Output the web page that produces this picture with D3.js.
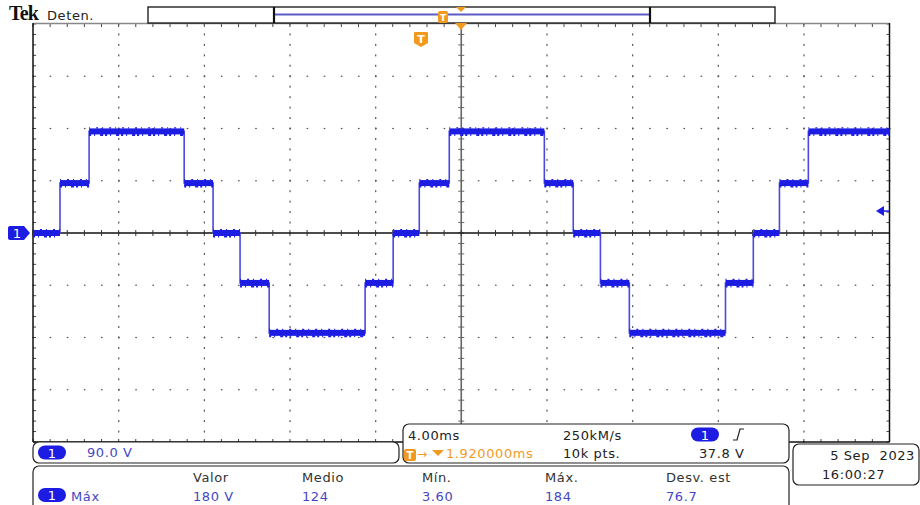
<!DOCTYPE html>
<html>
<head>
<meta charset="utf-8">
<script src="https://cdn.jsdelivr.net/npm/d3@7"></script>
<style>
  body { margin: 0; background: #fff; }
  svg { display: block; font-family: "DejaVu Sans", sans-serif; }
</style>
</head>
<body>
<svg width="920" height="505"></svg>
<script>
(function() {
  'use strict';

// step edges of the trace (ms, 0 = screen centre) and the level held after each edge (V)
var stepEdges  = [-20, -18.74, -17.38, -12.94, -11.59, -10.33, -8.97, -4.49, -3.18, -1.96,
                  -0.56, 3.88, 5.23, 6.50, 7.85, 12.34, 13.64, 14.86, 16.21, 20];
var stepLevels = [0, 86, 175, 86, 0, -86, -172, -86, 0, 86,
                  175, 86, 0, -86, -172, -86, 0, 86, 175];

var voltsPerDiv = 90, msPerDiv = 4, triggerLevel = 37.8;

var measHeaders = ["Valor", "Medio", "Mín.", "Máx.", "Desv. est"];
var measValues  = ["180 V", "124", "3.60", "184", "76.7"];

var blue = "#1c1ce2", orange = "#f29a1f", valBlue = "#4646c4";

var svg = d3.select("svg");

var x = d3.scaleLinear().domain([-5 * msPerDiv, 5 * msPerDiv]).range([33, 889.5]);
var y = d3.scaleLinear().domain([-4 * voltsPerDiv, 4 * voltsPerDiv]).range([442, 24]);

var majorX = d3.range(-5, 5.001, 1).map(function(d) { return d * msPerDiv; });
var minorX = d3.range(-25, 25.001, 1).map(function(d) { return d * msPerDiv / 5; });
var majorY = d3.range(-4, 4.001, 1).map(function(d) { return d * voltsPerDiv; });
var minorY = d3.range(-20, 20.001, 1).map(function(d) { return d * voltsPerDiv / 5; });

// graticule dots
var grid = svg.append("g").attr("fill", "#555");
majorX.slice(1, -1).forEach(function(t) {
  if (t === 0) return;
  grid.selectAll(null).data(minorY).enter().append("rect")
    .attr("x", x(t) - 0.5).attr("y", function(v) { return y(v) - 1; })
    .attr("width", 1.2).attr("height", 2);
});
majorY.slice(1, -1).forEach(function(v) {
  if (v === 0) return;
  grid.selectAll(null).data(minorX).enter().append("rect")
    .attr("x", function(t) { return x(t) - 0.5; }).attr("y", y(v) - 0.6)
    .attr("width", 1.6).attr("height", 1.2);
});

// centre axes
svg.append("line").attr("x1", x(0)).attr("x2", x(0)).attr("y1", 24).attr("y2", 442)
   .attr("stroke", "#666").attr("stroke-width", 1.6);
svg.append("g").selectAll("line").data(minorY).enter().append("line")
   .attr("x1", x(0) - 3).attr("x2", x(0) + 3)
   .attr("y1", function(v) { return y(v); }).attr("y2", function(v) { return y(v); })
   .attr("stroke", "#666").attr("stroke-width", 1);
svg.append("line").attr("x1", 33).attr("x2", 889.5).attr("y1", y(0)).attr("y2", y(0))
   .attr("stroke", "#111").attr("stroke-width", 1.5);
svg.append("g").selectAll("line").data(minorX).enter().append("line")
   .attr("x1", function(t) { return x(t); }).attr("x2", function(t) { return x(t); })
   .attr("y1", y(0) - 3).attr("y2", y(0) + 3)
   .attr("stroke", "#333").attr("stroke-width", 1);

// edge ticks
var edges = svg.append("g").attr("stroke", "#444").attr("stroke-width", 1);
edges.selectAll(".tt").data(minorX).enter().append("line")
   .attr("x1", function(t) { return x(t); }).attr("x2", function(t) { return x(t); })
   .attr("y1", 24).attr("y2", 27);
edges.selectAll(".tb").data(minorX).enter().append("line")
   .attr("x1", function(t) { return x(t); }).attr("x2", function(t) { return x(t); })
   .attr("y1", 439).attr("y2", 442);
edges.selectAll(".tl").data(minorY).enter().append("line")
   .attr("x1", 33).attr("x2", 36)
   .attr("y1", function(v) { return y(v); }).attr("y2", function(v) { return y(v); });
edges.selectAll(".tr").data(minorY).enter().append("line")
   .attr("x1", 886.5).attr("x2", 889.5)
   .attr("y1", function(v) { return y(v); }).attr("y2", function(v) { return y(v); });

// frame
svg.append("line").attr("x1", 33).attr("x2", 889.5).attr("y1", 23.5).attr("y2", 23.5)
   .attr("stroke", "#888").attr("stroke-width", 1.5);
svg.append("line").attr("x1", 33).attr("x2", 889.5).attr("y1", 442).attr("y2", 442)
   .attr("stroke", "#111").attr("stroke-width", 1.5);
svg.append("line").attr("x1", 33).attr("x2", 33).attr("y1", 23).attr("y2", 442)
   .attr("stroke", "#111").attr("stroke-width", 1.5);
svg.append("line").attr("x1", 889.5).attr("x2", 889.5).attr("y1", 23).attr("y2", 442)
   .attr("stroke", "#111").attr("stroke-width", 1.5);

// trace
var stepPts = [];
stepLevels.forEach(function(v, i) {
  stepPts.push([stepEdges[i], v]);
  stepPts.push([stepEdges[i + 1], v]);
});
var line = d3.line().x(function(d) { return x(d[0]); }).y(function(d) { return y(d[1]); });
svg.append("path").attr("d", line(stepPts)).attr("fill", "none")
   .attr("stroke", "#4a4ae0").attr("stroke-width", 1.6);

var plateaus = svg.append("g");
stepLevels.forEach(function(v, i) {
  var x0 = x(stepEdges[i]), x1 = x(stepEdges[i + 1]), yy = y(v);
  plateaus.append("rect").attr("x", x0).attr("y", yy - 3).attr("width", x1 - x0).attr("height", 6)
    .attr("fill", blue);
  plateaus.append("line").attr("x1", x0).attr("x2", x1).attr("y1", yy + 3.5).attr("y2", yy + 3.5)
    .attr("stroke", blue).attr("stroke-width", 2).attr("stroke-dasharray", "2 3 1 5 3 2");
  plateaus.append("line").attr("x1", x0).attr("x2", x1).attr("y1", yy - 3.5).attr("y2", yy - 3.5)
    .attr("stroke", blue).attr("stroke-width", 1.2).attr("stroke-dasharray", "1 6 2 4");
});

// channel marker on the left
var ch = svg.append("g").attr("transform", "translate(0," + y(0) + ")");
ch.append("path").attr("d", "M10,-7 L24,-7 L30,0 L24,7 L10,7 Q8,7 8,5 L8,-5 Q8,-7 10,-7 Z")
  .attr("fill", blue);
ch.append("text").attr("x", 17).attr("y", 5).attr("fill", "#fff").attr("font-size", 13)
  .attr("text-anchor", "middle").text("1");

// trigger level arrow on the right
var tl = svg.append("g").attr("transform", "translate(0," + y(triggerLevel) + ")");
tl.append("path").attr("d", "M876,0 L884,-5 L884,5 Z").attr("fill", blue);
tl.append("line").attr("x1", 883).attr("x2", 889).attr("y1", 0).attr("y2", 0)
  .attr("stroke", blue).attr("stroke-width", 1.5);

// header
svg.append("text").attr("x", 9).attr("y", 20).attr("font-family", "Liberation Serif, serif")
   .attr("font-weight", "bold").attr("font-size", 20).attr("fill", "#111")
   .attr("letter-spacing", -0.8).text("Tek");
svg.append("text").attr("x", 47).attr("y", 20).attr("font-size", 13).attr("fill", "#222")
   .attr("letter-spacing", 0.6).text("Deten.");

// record bar
svg.append("rect").attr("x", 148).attr("y", 7).attr("width", 627).attr("height", 16)
   .attr("fill", "#fff").attr("stroke", "#111").attr("stroke-width", 1.3);
svg.append("line").attr("x1", 275).attr("x2", 650).attr("y1", 14.5).attr("y2", 14.5)
   .attr("stroke", "#5c5cc8").attr("stroke-width", 1.8);
[274, 650].forEach(function(px) {
  svg.append("line").attr("x1", px).attr("x2", px).attr("y1", 7).attr("y2", 23)
     .attr("stroke", "#111").attr("stroke-width", 2.2);
});
svg.append("rect").attr("x", 438).attr("y", 11).attr("width", 10).attr("height", 12).attr("rx", 2)
   .attr("fill", orange);
svg.append("text").attr("x", 443).attr("y", 21).attr("font-size", 9).attr("font-weight", "bold")
   .attr("fill", "#fff").attr("text-anchor", "middle").text("T");
svg.append("path").attr("d", "M456,7 L466,7 L461,12 Z").attr("fill", orange);
svg.append("path").attr("d", "M455,23 L467,23 L461,30 Z").attr("fill", orange);

// trigger badge
svg.append("path").attr("d", "M415,32 L427,32 Q428,32 428,33 L428,43 L421,47 L414,43 L414,33 Q414,32 415,32 Z")
   .attr("fill", orange);
svg.append("text").attr("x", 421).attr("y", 43).attr("font-size", 11).attr("font-weight", "bold")
   .attr("fill", "#fff").attr("text-anchor", "middle").text("T");

// pill helper
function pill(g, cx, cy) {
  g.append("rect").attr("x", cx - 14).attr("y", cy - 7).attr("width", 28).attr("height", 14)
   .attr("rx", 7).attr("fill", blue);
  g.append("text").attr("x", cx).attr("y", cy + 5).attr("font-size", 13).attr("fill", "#fff")
   .attr("text-anchor", "middle").text("1");
}

// text helper
function label(px, py, str, color, anchor) {
  return svg.append("text").attr("x", px).attr("y", py).attr("font-size", 13)
    .attr("letter-spacing", 0.6).attr("fill", color || "#222")
    .attr("text-anchor", anchor || "start").text(str);
}

// channel box
svg.append("rect").attr("x", 33).attr("y", 442).attr("width", 366).attr("height", 21).attr("rx", 6)
   .attr("fill", "#fff").attr("stroke", "#222").attr("stroke-width", 1.2);
pill(svg, 52, 452.5);
label(87, 457, voltsPerDiv.toFixed(1) + " V", valBlue);

// timebase box
svg.append("rect").attr("x", 403).attr("y", 424).attr("width", 386).attr("height", 39).attr("rx", 6)
   .attr("fill", "#fff").attr("stroke", "#222").attr("stroke-width", 1.2);
label(408, 440, msPerDiv.toFixed(2) + "ms");
label(563, 440, "250kM/s");
pill(svg, 705, 434.5);
svg.append("path").attr("d", "M733,440 L737,440 L740,429 L744,429").attr("fill", "none")
   .attr("stroke", "#222").attr("stroke-width", 1.2);
svg.append("rect").attr("x", 404).attr("y", 449).attr("width", 12).attr("height", 12).attr("rx", 2)
   .attr("fill", orange);
svg.append("text").attr("x", 410).attr("y", 459).attr("font-size", 10).attr("font-weight", "bold")
   .attr("fill", "#fff").attr("text-anchor", "middle").text("T");
svg.append("text").attr("x", 417).attr("y", 458).attr("font-size", 12).attr("fill", orange).text("→");
svg.append("path").attr("d", "M432,450 L444,450 L438,456 Z").attr("fill", orange);
label(446, 458, "1.920000ms", orange);
label(563, 458, "10k pts.");
label(699, 458, triggerLevel.toFixed(1) + " V");

// date box
svg.append("rect").attr("x", 793).attr("y", 444).attr("width", 126).attr("height", 41).attr("rx", 6)
   .attr("fill", "#fff").attr("stroke", "#222").attr("stroke-width", 1.2);
label(915, 460, "5 Sep\u00a0 2023", "#222", "end");
label(822, 479, "16:00:27");

// measurement box
svg.append("rect").attr("x", 33).attr("y", 466).attr("width", 756).attr("height", 48).attr("rx", 6)
   .attr("fill", "#fff").attr("stroke", "#222").attr("stroke-width", 1.2);
var measX = [193, 302, 422, 545, 666];
measHeaders.forEach(function(d, i) { label(measX[i], 482, d, "#333"); });
measValues.forEach(function(d, i) { label(measX[i], 501, d, valBlue); });
pill(svg, 52, 495);
label(71, 501, "Máx", valBlue);

})();
</script>
</body>
</html>
